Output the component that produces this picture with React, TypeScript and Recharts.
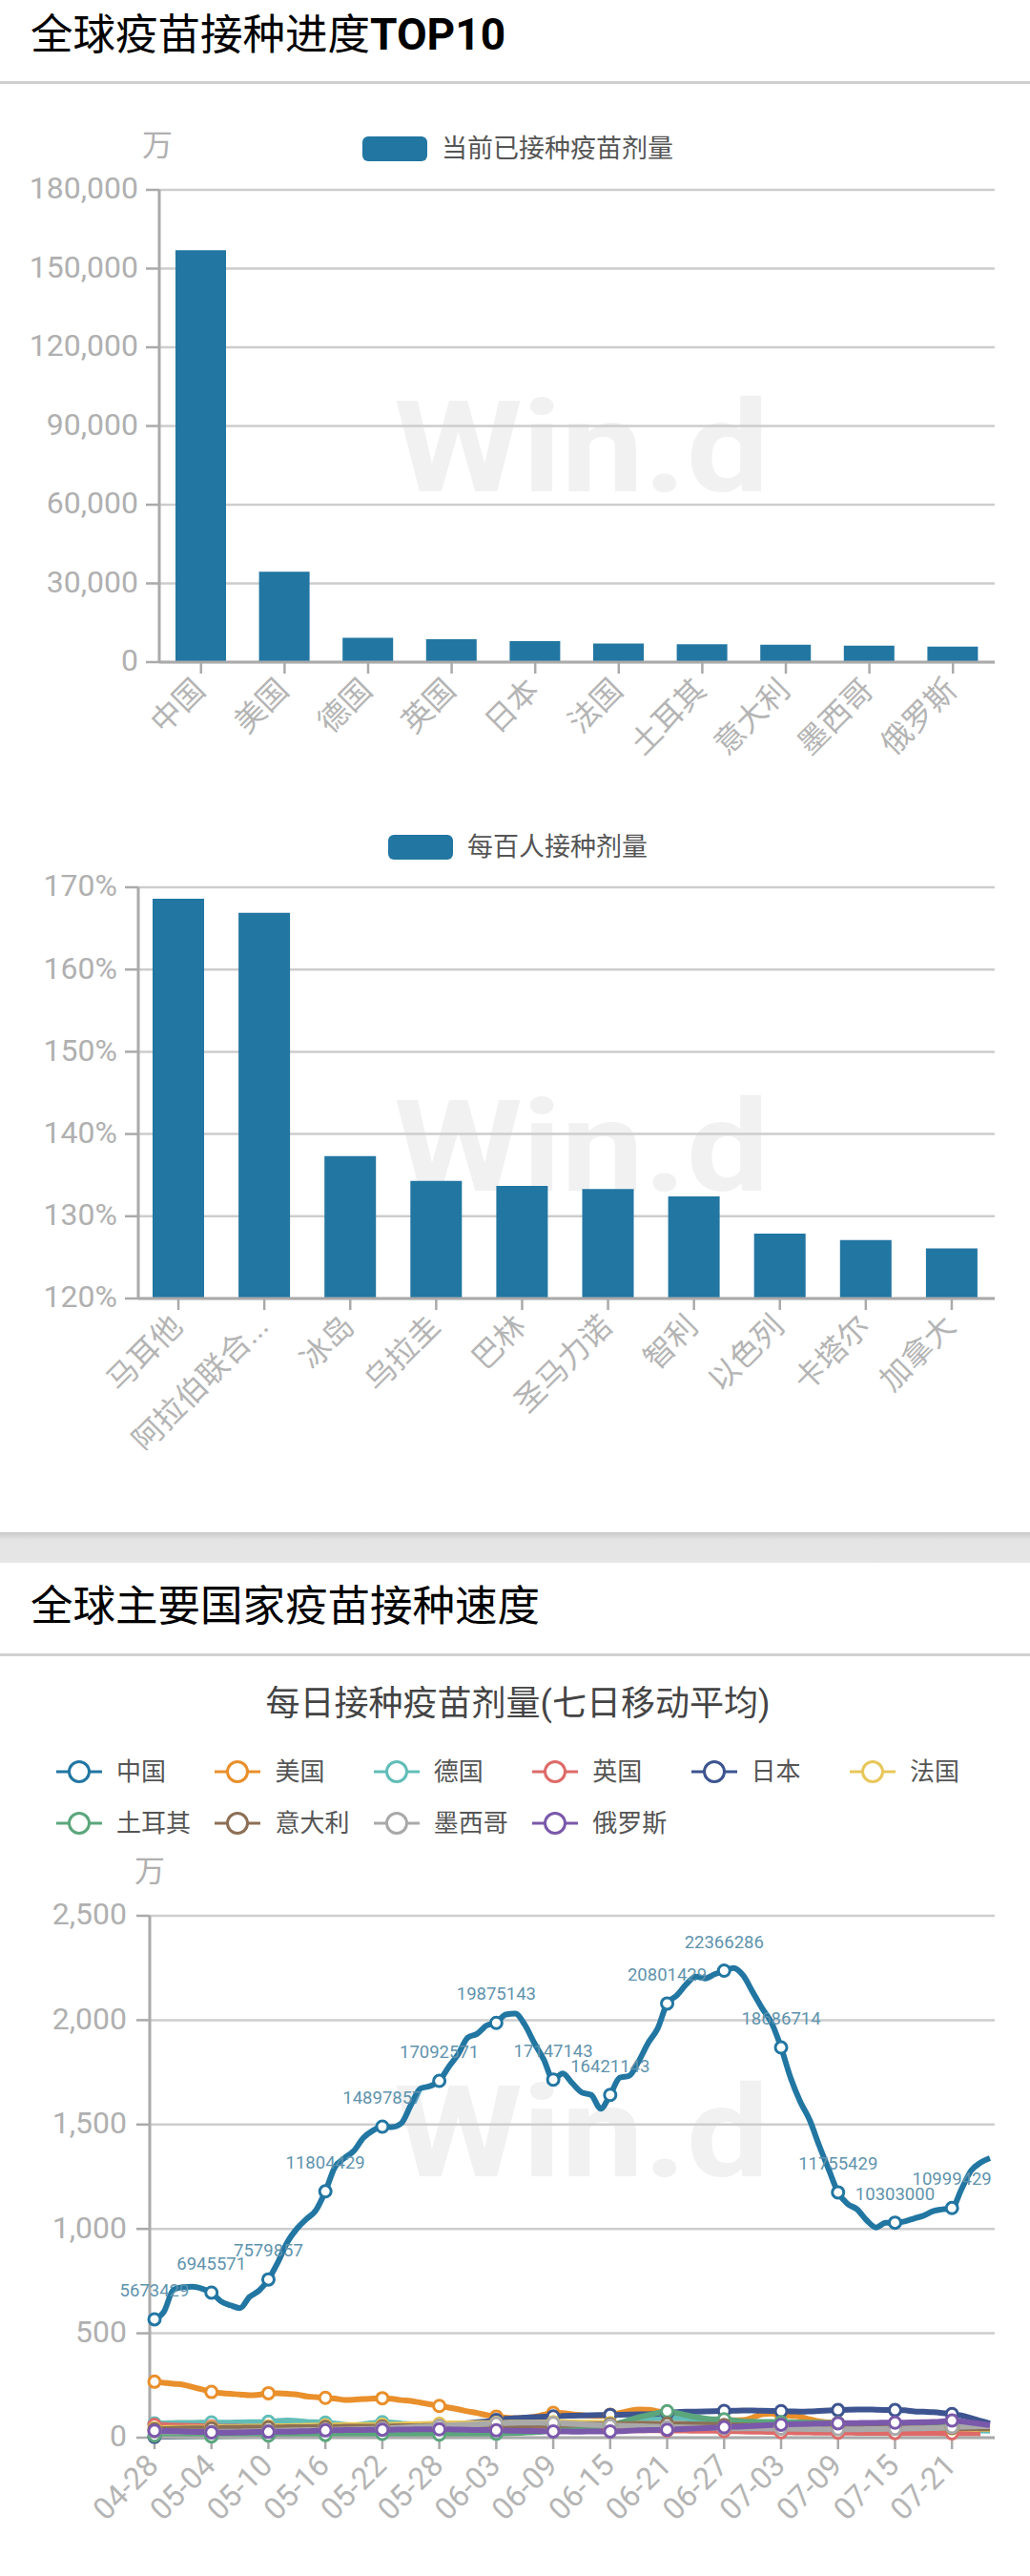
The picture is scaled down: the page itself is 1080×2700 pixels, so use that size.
import { BarChart, Bar, LineChart, Line, XAxis, YAxis, CartesianGrid } from "recharts";

const FONT = 'Roboto, "Noto Sans CJK SC", sans-serif';
const BLUE = "#2276a2";

const topCountries = ["中国", "美国", "德国", "英国", "日本", "法国", "土耳其", "意大利", "墨西哥", "俄罗斯"];
const topDoses = [157000, 34500, 9300, 8700, 8000, 7050, 6850, 6650, 6300, 5900];
const topTicks = [0, 30000, 60000, 90000, 120000, 150000, 180000];

const perCountries = ["马耳他", "阿拉伯联合...", "冰岛", "乌拉圭", "巴林", "圣马力诺", "智利", "以色列", "卡塔尔", "加拿大"];
const perDoses = [168.6, 166.9, 137.3, 134.3, 133.7, 133.3, 132.4, 127.9, 127.1, 126.1];
const perTicks = [120, 130, 140, 150, 160, 170];

const days = [
  "04-28", "04-29", "04-30", "05-01", "05-02", "05-03", "05-04", "05-05", "05-06", "05-07",
  "05-08", "05-09", "05-10", "05-11", "05-12", "05-13", "05-14", "05-15", "05-16", "05-17",
  "05-18", "05-19", "05-20", "05-21", "05-22", "05-23", "05-24", "05-25", "05-26", "05-27",
  "05-28", "05-29", "05-30", "05-31", "06-01", "06-02", "06-03", "06-04", "06-05", "06-06",
  "06-07", "06-08", "06-09", "06-10", "06-11", "06-12", "06-13", "06-14", "06-15", "06-16",
  "06-17", "06-18", "06-19", "06-20", "06-21", "06-22", "06-23", "06-24", "06-25", "06-26",
  "06-27", "06-28", "06-29", "06-30", "07-01", "07-02", "07-03", "07-04", "07-05", "07-06",
  "07-07", "07-08", "07-09", "07-10", "07-11", "07-12", "07-13", "07-14", "07-15", "07-16",
  "07-17", "07-18", "07-19", "07-20", "07-21", "07-22", "07-23", "07-24", "07-25",
];
const speedTicks = [0, 500, 1000, 1500, 2000, 2500];

const china = [
  567, 604, 709, 721, 723, 714, 695, 653, 634, 621,
  674, 704, 758, 840, 937, 1001, 1047, 1089, 1180, 1296,
  1339, 1374, 1436, 1471, 1490, 1488, 1506, 1593, 1672, 1684,
  1709, 1777, 1838, 1917, 1935, 1975, 1987, 2027, 2031, 1978,
  1891, 1812, 1715, 1745, 1698, 1654, 1642, 1576, 1642, 1724,
  1733, 1803, 1891, 1960, 2080, 2118, 2171, 2209, 2200, 2220,
  2237, 2250, 2215, 2136, 2057, 1987, 1869, 1724, 1611, 1523,
  1401, 1287, 1175, 1120, 1094, 1042, 1007, 1029, 1030, 1036,
  1050, 1063, 1085, 1094, 1100, 1190, 1278, 1317, 1339,
];
const usa = [
  268, 263, 258, 254, 243, 231, 219, 214, 210, 207,
  203, 206, 213, 212, 210, 207, 198, 194, 191, 187,
  181, 182, 185, 187, 189, 186, 180, 176, 168, 160,
  152, 144, 136, 126, 118, 108, 101, 96, 93, 95,
  100, 110, 119, 118, 112, 108, 105, 104, 110, 118,
  128, 135, 134, 126, 118, 106, 96, 90, 87, 85,
  85, 83, 84, 96, 112, 115, 110, 105, 100, 88,
  78, 73, 70, 66, 64, 62, 60, 58, 57, 56,
  55, 54, 53, 52, 50, 48, 46, 44, 42,
];
const germany = [
  68, 69, 70, 71, 71, 72, 73, 72, 72, 73,
  74, 74, 76, 80, 82, 80, 76, 74, 72, 68,
  62, 58, 64, 70, 74, 72, 68, 64, 62, 62,
  62, 63, 64, 64, 65, 64, 63, 62, 60, 60,
  60, 60, 60, 60, 60, 60, 61, 62, 64, 70,
  78, 86, 92, 95, 96, 95, 92, 88, 84, 80,
  76, 72, 68, 64, 60, 58, 56, 54, 52, 50,
  49, 48, 47, 46, 46, 45, 45, 44, 44, 44,
  43, 42, 40, 38, 37, 36, 35, 34, 33,
];
const uk = [
  62, 60, 58, 57, 56, 55, 54, 53, 52, 52,
  51, 51, 50, 50, 49, 49, 48, 48, 47, 47,
  46, 46, 45, 45, 45, 46, 48, 50, 51, 52,
  52, 52, 52, 50, 49, 48, 47, 46, 45, 44,
  43, 42, 41, 40, 39, 38, 38, 37, 37, 36,
  36, 35, 35, 35, 34, 34, 34, 33, 33, 33,
  32, 31, 30, 29, 28, 27, 26, 26, 25, 25,
  24, 24, 24, 24, 23, 23, 23, 23, 22, 22,
  22, 22, 22, 21, 21, 21, 20, 20, null,
];
const japan = [
  4, 5, 5, 6, 7, 8, 9, 10, 10, 11,
  12, 13, 14, 16, 18, 20, 22, 26, 30, 34,
  38, 42, 45, 48, 50, 52, 54, 55, 56, 58,
  60, 63, 66, 70, 74, 78, 84, 90, 94, 96,
  98, 100, 102, 104, 105, 106, 107, 108, 109, 110,
  111, 112, 112, 114, 118, 122, 124, 125, 126, 127,
  128, 129, 130, 130, 129, 128, 127, 126, 125, 126,
  128, 130, 132, 134, 135, 135, 134, 133, 132, 131,
  126, 124, 122, 118, 113, 106, 94, 80, 68,
];
const france = [
  45, 46, 47, 47, 48, 48, 49, 50, 50, 51,
  52, 53, 54, 55, 55, 56, 57, 58, 58, 59,
  60, 60, 61, 61, 62, 62, 63, 64, 65, 66,
  67, 68, 68, 69, 70, 70, 71, 71, 72, 72,
  72, 73, 74, 74, 73, 72, 72, 71, 70, 68,
  67, 66, 65, 64, 63, 62, 61, 60, 59, 58,
  58, 57, 56, 56, 55, 55, 54, 54, 53, 53,
  52, 52, 51, 51, 50, 50, 50, 49, 49, 48,
  48, 47, 47, 46, 45, 44, 43, 42, 41,
];
const turkey = [
  10, 9, 8, 8, 7, 7, 6, 6, 7, 8,
  9, 10, 10, 11, 12, 12, 13, 13, 13, 12,
  12, 14, 16, 17, 18, 18, 17, 16, 15, 15,
  15, 15, 16, 16, 17, 18, 19, 20, 22, 24,
  26, 30, 36, 42, 48, 52, 55, 57, 59, 70,
  84, 98, 108, 118, 127, 118, 108, 98, 92, 88,
  88, 82, 78, 76, 75, 75, 74, 74, 73, 72,
  72, 71, 70, 68, 66, 64, 62, 61, 60, 59,
  58, 58, 57, 56, 55, 52, 50, 48, 46,
];
const italy = [
  40, 41, 42, 43, 44, 45, 45, 46, 47, 47,
  48, 48, 49, 49, 50, 50, 50, 51, 51, 51,
  52, 52, 53, 53, 54, 54, 55, 55, 55, 56,
  56, 56, 57, 57, 58, 58, 58, 58, 59, 59,
  60, 60, 61, 62, 62, 63, 63, 64, 64, 65,
  65, 66, 66, 66, 67, 66, 65, 64, 63, 62,
  60, 59, 58, 57, 56, 56, 55, 55, 54, 54,
  53, 53, 52, 52, 52, 51, 51, 50, 50, 50,
  49, 49, 48, 48, 47, 46, 46, 45, 45,
];
const mexico = [
  30, 30, 29, 29, 28, 28, 27, 28, 28, 29,
  30, 31, 32, 33, 34, 35, 36, 37, 38, 38,
  39, 40, 41, 42, 44, 46, 48, 50, 52, 54,
  56, 58, 60, 62, 64, 66, 68, 70, 71, 72,
  72, 71, 70, 68, 66, 64, 62, 60, 58, 57,
  56, 55, 54, 52, 50, 50, 49, 48, 47, 46,
  46, 45, 45, 44, 44, 43, 43, 42, 42, 41,
  41, 40, 40, 40, 40, 41, 41, 42, 42, 43,
  44, 45, 46, 48, 50, 52, 54, 55, 55,
];
const russia = [
  33, 32, 31, 30, 28, 27, 25, 24, 24, 25,
  26, 27, 28, 28, 29, 30, 31, 33, 35, 35,
  36, 37, 37, 38, 38, 38, 39, 39, 40, 40,
  40, 40, 39, 38, 37, 36, 35, 34, 33, 32,
  32, 31, 30, 30, 29, 29, 30, 30, 30, 31,
  33, 35, 36, 37, 38, 40, 42, 44, 46, 48,
  50, 52, 54, 56, 58, 60, 62, 64, 65, 66,
  67, 68, 69, 70, 70, 71, 71, 72, 72, 72,
  73, 74, 75, 78, 82, 78, 72, 66, 60,
];

// printed above every sixth point of the China line
const chinaLabels = [
  "5673429", "6945571", "7579857", "11804429", "14897857", "17092571", "19875143", "17147143",
  "16421143", "20801429", "22366286", "18686714", "11755429", "10303000", "10999429",
];

const seriesNames = ["中国", "美国", "德国", "英国", "日本", "法国", "土耳其", "意大利", "墨西哥", "俄罗斯"];
const seriesValues = [china, usa, germany, uk, japan, france, turkey, italy, mexico, russia];
const seriesColors = [BLUE, "#e98f2b", "#62bdb8", "#de6a68", "#3d5490", "#e8c75a", "#5ba67c", "#8c6f55", "#a9a9a9", "#7a58aa"];

const topData = topCountries.map((name, i) => ({ name, value: topDoses[i] }));
const perData = perCountries.map((name, i) => ({ name, value: perDoses[i] }));
const speedData = days.map((day, i) => {
  const row: Record<string, string | number | null> = { day };
  seriesNames.forEach((name, s) => {
    row[name] = seriesValues[s][i];
  });
  return row;
});

const place = (left: number, top: number): React.CSSProperties => ({ position: "absolute", left, top, whiteSpace: "nowrap" });

function Heading({ top, line, children }: { top: number; line: number; children: React.ReactNode }) {
  return (
    <>
      <div style={{ ...place(32, top), fontSize: 44.5, lineHeight: "60px", color: "#000" }}>{children}</div>
      <div style={{ position: "absolute", left: 0, top: line, width: 1080, height: 3, background: "#d0d0d0" }} />
    </>
  );
}

function Watermark({ top }: { top: number }) {
  return (
    <div style={{ ...place(413, top), fontSize: 134, lineHeight: "134px", fontWeight: 700, color: "#f1f1f1", transform: "scaleX(1.15)", transformOrigin: "left" }}>
      Win.d
    </div>
  );
}

function BarKey({ left, top, label }: { left: number; top: number; label: string }) {
  return (
    <>
      <div style={{ position: "absolute", left, top, width: 68, height: 26, borderRadius: 6, background: BLUE }} />
      <div style={{ ...place(left + 83, top - 7), fontSize: 27, lineHeight: "40px", color: "#555" }}>{label}</div>
    </>
  );
}

function LineKey({ name, color, index }: { name: string; color: string; index: number }) {
  const left = 58 + (index % 6) * 166.4;
  const top = index < 6 ? 1837 : 1891;
  return (
    <div style={{ ...place(left, top), height: 40 }}>
      <svg width={50} height={40} style={{ position: "absolute", left: 0, top: 0 }}>
        <line x1={1} y1={20} x2={49} y2={20} stroke={color} strokeWidth={3} />
        <circle cx={25} cy={20} r={10.5} fill="#fff" stroke={color} strokeWidth={3} />
      </svg>
      <div style={{ position: "absolute", left: 64, top: 0, fontSize: 26, lineHeight: "40px", color: "#555" }}>{name}</div>
    </div>
  );
}

const sixthDot = (color: string) => (props: any) => {
  const { cx, cy, index } = props;
  if (index % 6 !== 0 || cy == null) return <g key={index} />;
  return <circle key={index} cx={cx} cy={cy} r={6} fill="#fff" stroke={color} strokeWidth={3} />;
};

const chinaLabel = (props: any) => {
  const { x, y, index } = props;
  if (index % 6 !== 0) return <g key={index} />;
  return (
    <text key={index} x={x} y={y - 30} textAnchor="middle" dominantBaseline="central" fontSize={18.5} fontFamily={FONT} fill="#5f93ad">
      {chinaLabels[index / 6]}
    </text>
  );
};

const axisLine = { stroke: "#aaa", strokeWidth: 3 };
const tickLine = { stroke: "#aaa", strokeWidth: 2.5 };
const yTick = { fill: "#b0b0b0", fontSize: 32, fontFamily: FONT, dy: -2 };
const xTick = { fill: "#b4b4b4", fontSize: 32, fontFamily: FONT, dx: -10, dy: -3 };

export default function App() {
  return (
    <div style={{ position: "absolute", left: 0, top: 0, width: 1080, height: 2700, background: "#fff", fontFamily: FONT, overflow: "hidden" }}>
      <Watermark top={403} />
      <Watermark top={1136} />
      <Watermark top={2169} />

      <Heading top={6} line={85}>
        全球疫苗接种进度<b style={{ fontSize: 46 }}>TOP10</b>
      </Heading>
      <div style={{ ...place(149, 130), fontSize: 32, lineHeight: "44px", color: "#b0b0b0" }}>万</div>
      <BarKey left={380} top={143} label="当前已接种疫苗剂量" />

      <div style={{ position: "absolute", left: 0, top: 150 }}>
        <BarChart width={1080} height={720} data={topData} margin={{ top: 49, right: 37, bottom: 0, left: 0 }}>
          <CartesianGrid vertical={false} stroke="#cdcdcd" strokeWidth={2.5} />
          <XAxis dataKey="name" interval={0} height={176} angle={-45} textAnchor="end" tick={xTick} tickSize={12} tickMargin={6} axisLine={axisLine} tickLine={tickLine} />
          <YAxis width={167} domain={[0, 180000]} ticks={topTicks} tick={yTick} tickSize={14} tickMargin={8} axisLine={axisLine} tickLine={tickLine} tickFormatter={(v: number) => v.toLocaleString("en-US")} />
          <Bar dataKey="value" fill={BLUE} barSize={53} isAnimationActive={false} />
        </BarChart>
      </div>

      <BarKey left={407} top={875} label="每百人接种剂量" />

      <div style={{ position: "absolute", left: 0, top: 880 }}>
        <BarChart width={1080} height={640} data={perData} margin={{ top: 50, right: 37, bottom: 0, left: 0 }}>
          <CartesianGrid vertical={false} stroke="#cdcdcd" strokeWidth={2.5} />
          <XAxis dataKey="name" interval={0} height={159} padding={{ left: -3, right: 0 }} angle={-45} textAnchor="end" tick={xTick} tickSize={12} tickMargin={6} axisLine={axisLine} tickLine={tickLine} />
          <YAxis width={145} domain={[120, 170]} ticks={perTicks} allowDataOverflow tick={yTick} tickSize={14} tickMargin={8} axisLine={axisLine} tickLine={tickLine} tickFormatter={(v: number) => `${v}%`} />
          <Bar dataKey="value" fill={BLUE} barSize={54} isAnimationActive={false} />
        </BarChart>
      </div>

      <div style={{ position: "absolute", left: 0, top: 1606, width: 1080, height: 32, background: "linear-gradient(#c9c9c9, #e4e4e4 25%, #e6e6e6)" }} />
      <Heading top={1654} line={1733}>
        全球主要国家疫苗接种速度
      </Heading>

      <div style={{ ...place(0, 1761), width: 1086, textAlign: "center", fontSize: 36, lineHeight: "50px", color: "#444" }}>每日接种疫苗剂量(七日移动平均)</div>
      {seriesNames.map((name, i) => (
        <LineKey key={name} name={name} color={seriesColors[i]} index={i} />
      ))}
      <div style={{ ...place(141, 1939), fontSize: 32, lineHeight: "44px", color: "#b0b0b0" }}>万</div>

      <div style={{ position: "absolute", left: 0, top: 1960 }}>
        <LineChart width={1080} height={740} data={speedData} margin={{ top: 48, right: 37, bottom: 0, left: 0 }}>
          <CartesianGrid vertical={false} stroke="#cdcdcd" strokeWidth={2.5} />
          <XAxis dataKey="day" interval={5} height={145} padding={{ left: 5, right: 5 }} angle={-45} textAnchor="end" tick={xTick} tickSize={12} tickMargin={6} axisLine={axisLine} tickLine={tickLine} />
          <YAxis width={157} domain={[0, 2500]} ticks={speedTicks} tick={yTick} tickSize={14} tickMargin={10} axisLine={axisLine} tickLine={tickLine} tickFormatter={(v: number) => v.toLocaleString("en-US")} />
          {seriesNames.map((name, i) => (
            <Line
              key={name}
              type="monotone"
              dataKey={name}
              stroke={seriesColors[i]}
              strokeWidth={6}
              dot={sixthDot(seriesColors[i])}
              activeDot={false}
              label={i === 0 ? chinaLabel : false}
              isAnimationActive={false}
            />
          ))}
        </LineChart>
      </div>
    </div>
  );
}
